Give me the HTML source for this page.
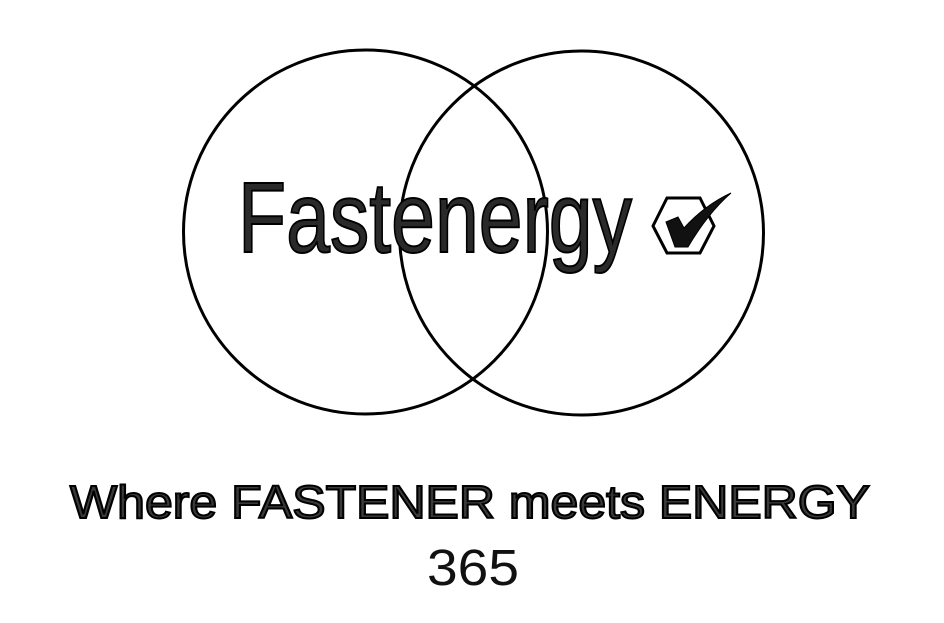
<!DOCTYPE html>
<html><head><meta charset="utf-8"><style>html,body{margin:0;padding:0;background:#fff}svg{display:block}</style></head>
<body>
<svg width="944" height="623" viewBox="0 0 944 623" xmlns="http://www.w3.org/2000/svg">
<circle cx="365.5" cy="232" r="182" fill="none" stroke="#000" stroke-width="3"/>
<circle cx="581.5" cy="233" r="182" fill="none" stroke="#000" stroke-width="3"/>
<text x="238" y="252" font-family="Liberation Sans, sans-serif" font-size="100" textLength="394" lengthAdjust="spacingAndGlyphs" fill="#2a2a2a" stroke="#000" stroke-width="2">Fastenergy</text>
<polygon points="667,198 700,198 714,226 700,253 667,253 653,226" fill="#fff" stroke="#000" stroke-width="3"/>
<path d="M666,222 L678,217 L684,228 Q705,205 731,193 Q708,213 688,247 L675,247 Z" fill="#111" stroke="#000" stroke-width="1"/>
<text x="70" y="518" font-family="Liberation Sans, sans-serif" font-size="46" textLength="800" lengthAdjust="spacingAndGlyphs" fill="#3a3a3a" stroke="#000" stroke-width="2">Where FASTENER meets ENERGY</text>
<text x="427" y="585" font-family="Liberation Sans, sans-serif" font-size="51" textLength="92" lengthAdjust="spacingAndGlyphs" fill="#111">365</text>
</svg>
</body></html>
